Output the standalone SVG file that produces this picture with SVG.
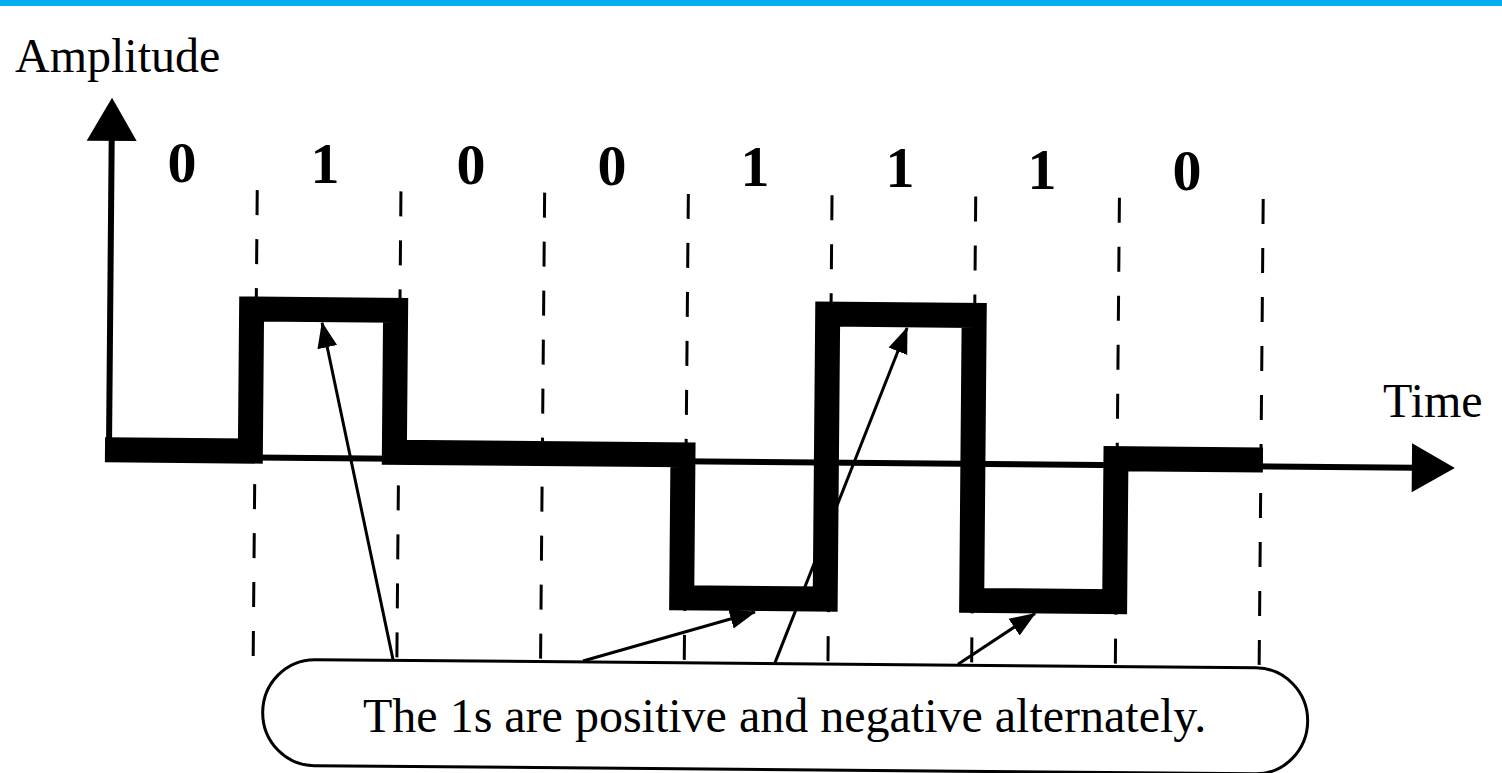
<svg xmlns="http://www.w3.org/2000/svg" width="1502" height="773" viewBox="0 0 1502 773">
<style>
  .lbl{font-family:"Liberation Serif","Times New Roman",serif;font-size:48px;fill:#000}
  .bit{font-family:"Liberation Serif","Times New Roman",serif;font-size:58px;font-weight:bold;fill:#000;text-anchor:middle}
  .grid{stroke:#000;stroke-width:3;stroke-dasharray:25 24;fill:none}
  .ptr{stroke:#000;stroke-width:3;fill:none;marker-end:url(#ah)}
</style>
<defs>
  <marker id="ah" markerUnits="userSpaceOnUse" markerWidth="26" markerHeight="22" viewBox="0 0 26 22" refX="25" refY="11" orient="auto">
    <path d="M0,1 L26,11 L0,21 Z" fill="#000"/>
  </marker>
</defs>
<rect id="topbar" x="0" y="0" width="1502" height="6" fill="#00AEEF"/>
<g transform="rotate(0.5 700 450)">
  <g id="grid">
    <line class="grid" x1="255" y1="194" x2="255" y2="662"/>
    <line class="grid" x1="398.7" y1="194" x2="398.7" y2="662"/>
    <line class="grid" x1="542.4" y1="194" x2="542.4" y2="662"/>
    <line class="grid" x1="686.1" y1="194" x2="686.1" y2="662"/>
    <line class="grid" x1="829.8" y1="194" x2="829.8" y2="662"/>
    <line class="grid" x1="973.5" y1="194" x2="973.5" y2="662"/>
    <line class="grid" x1="1117.2" y1="194" x2="1117.2" y2="662"/>
    <line class="grid" x1="1261" y1="194" x2="1261" y2="662"/>
  </g>
  <g id="axes">
    <line x1="109" y1="140" x2="109" y2="456" stroke="#000" stroke-width="6"/>
    <path d="M84,146 L109,103 L134,146 Z" fill="#000"/>
    <line x1="109" y1="461.5" x2="1416" y2="461.5" stroke="#000" stroke-width="6"/>
    <path d="M1412,437 L1455,461.5 L1412,486 Z" fill="#000"/>
  </g>
  <g id="signal">
    <path d="M105,455 H250.4 V313 H394.4 V455 H683 V598 H826.5 V313 H973 V598 H1116 V455 H1263" fill="none" stroke="#000" stroke-width="25" stroke-linejoin="miter"/>
  </g>
  <g id="callout">
    <rect x="265" y="663" width="1045" height="106" rx="52" ry="53" fill="#fff" stroke="#000" stroke-width="3"/>
  </g>
  <g id="connectors">
    <line class="ptr" x1="394.8" y1="662" x2="321" y2="326"/>
    <line class="ptr" x1="584.8" y1="662" x2="756.4" y2="611.5"/>
    <line class="ptr" x1="776.9" y1="662" x2="906" y2="326.2"/>
    <line class="ptr" x1="959.9" y1="662" x2="1036.4" y2="610.5"/>
  </g>
</g>
<g id="axis-labels">
  <text class="lbl" x="15" y="72">Amplitude</text>
  <text class="lbl" x="1383" y="417">Time</text>
</g>
<g id="bits">
  <text class="bit" x="182" y="182">0</text>
  <text class="bit" x="325" y="183">1</text>
  <text class="bit" x="471" y="184">0</text>
  <text class="bit" x="612" y="185">0</text>
  <text class="bit" x="755" y="186">1</text>
  <text class="bit" x="900" y="187">1</text>
  <text class="bit" x="1042" y="189">1</text>
  <text class="bit" x="1187" y="190">0</text>
</g>
<g id="callout-text">
  <text class="lbl" x="363" y="732">The 1s are positive and negative alternately.</text>
</g>
</svg>
